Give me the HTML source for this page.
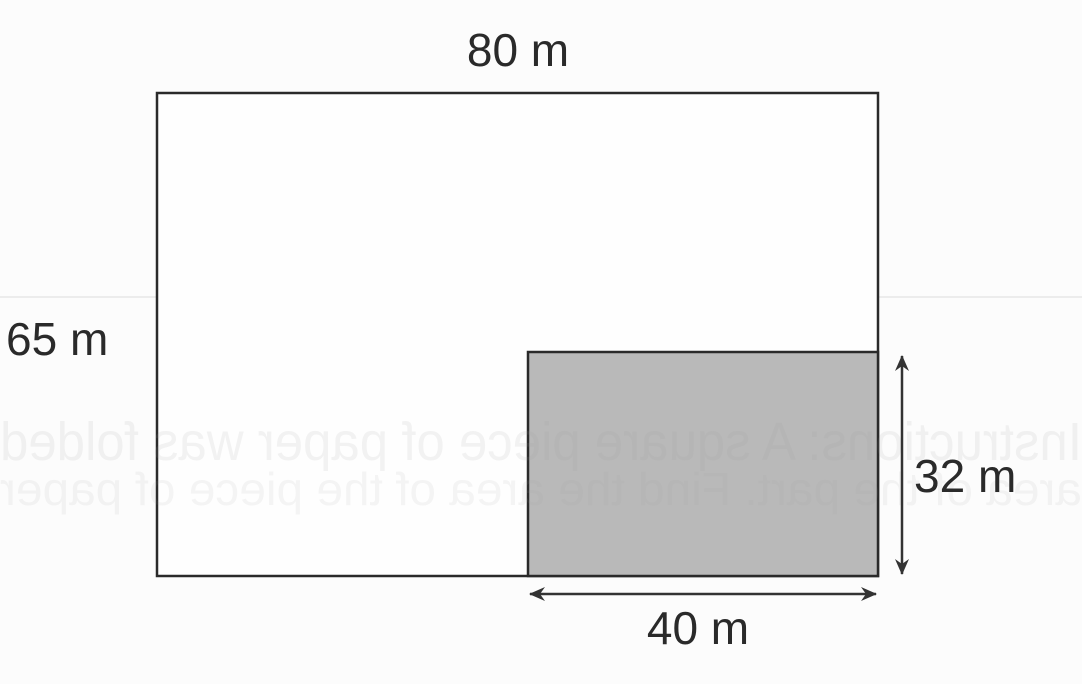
<!DOCTYPE html>
<html><head><meta charset="utf-8"><style>
html,body{margin:0;padding:0;background:#fcfcfc;}
svg{display:block;}
text{font-family:"Liberation Sans",sans-serif;}
</style></head><body>
<svg width="1082" height="684" viewBox="0 0 1082 684">
  <defs>
    <marker id="ah" viewBox="0 0 16 14" refX="15" refY="7" markerWidth="16" markerHeight="14" markerUnits="userSpaceOnUse" orient="auto-start-reverse">
      <path d="M0,0 L16,7 L0,14 L5,7 Z" fill="#333"/>
    </marker>
  </defs>
  <rect x="0" y="296" width="1082" height="2" fill="#ececec"/>
  <rect x="157" y="93" width="721" height="483" fill="#fefefe" stroke="#2a2a2a" stroke-width="2.5"/>
  <rect x="528" y="352" width="350" height="224" fill="#b9b9b9" stroke="#2a2a2a" stroke-width="2.5"/>
  <g transform="translate(1082,0) scale(-1,1)">
    <text x="0" y="460" font-size="54" fill="#999" fill-opacity="0.12" textLength="1082" lengthAdjust="spacingAndGlyphs">Instructions: A square piece of paper was folded</text>
    <text x="0" y="505" font-size="46" fill="#999" fill-opacity="0.1" textLength="1082" lengthAdjust="spacingAndGlyphs">area of the part. Find the area of the piece of paper</text>
  </g>
  <line x1="902" y1="356" x2="902" y2="574" stroke="#333" stroke-width="2.5" marker-start="url(#ah)" marker-end="url(#ah)"/>
  <line x1="530" y1="594" x2="876" y2="594" stroke="#333" stroke-width="2.5" marker-start="url(#ah)" marker-end="url(#ah)"/>
  <text x="518" y="66" font-size="46" text-anchor="middle" fill="#2a2a2a">80 m</text>
  <text x="6" y="355" font-size="46" fill="#2a2a2a">65 m</text>
  <text x="914" y="492" font-size="46" fill="#2a2a2a">32 m</text>
  <text x="698" y="644" font-size="46" text-anchor="middle" fill="#2a2a2a">40 m</text>
</svg>
</body></html>
